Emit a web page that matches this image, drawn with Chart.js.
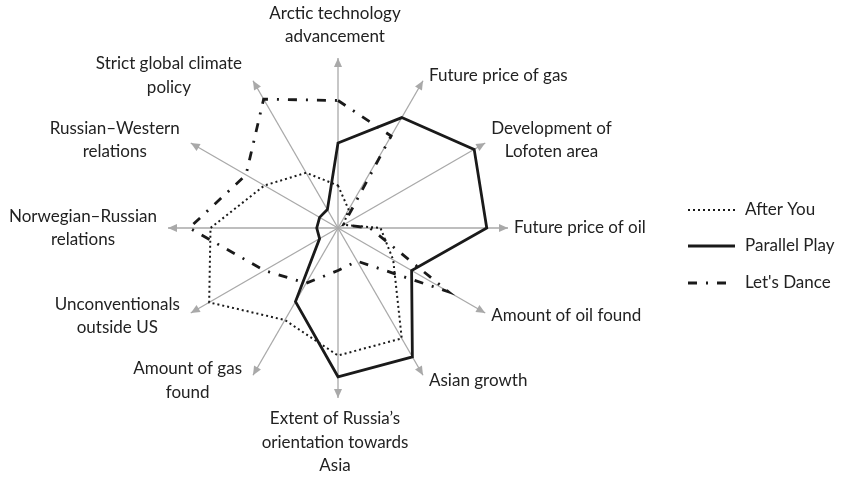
<!DOCTYPE html>
<html>
<head>
<meta charset="utf-8">
<script src="https://cdn.jsdelivr.net/npm/chart.js@4/dist/chart.umd.min.js"></script>
<style>
  html, body { margin: 0; padding: 0; background: #ffffff; }
  #wrap { position: relative; width: 841px; height: 477px; }
</style>
</head>
<body>
<div id="wrap"><canvas id="c" width="841" height="477"></canvas></div>
<script>
// ---- data ----
const categories = [
  ["Arctic technology", "advancement"],
  ["Future price of gas"],
  ["Development of", "Lofoten area"],
  ["Future price of oil"],
  ["Amount of oil found"],
  ["Asian growth"],
  ["Extent of Russia’s", "orientation towards", "Asia"],
  ["Amount of gas", "found"],
  ["Unconventionals", "outside US"],
  ["Norwegian–Russian", "relations"],
  ["Russian–Western", "relations"],
  ["Strict global climate", "policy"]
];
const seriesNames = ["After You", "Parallel Play", "Let's Dance"];
const afterYou     = [2, 1, 0.3, 2, 3, 6, 6, 5, 7, 6, 4, 3];
const parallelPlay = [4, 6, 7.4, 7, 4, 7, 7, 4, 1, 1, 1, 1];
const letsDance    = [6, 5, 0.3, 1.5, 6, 1.8, 2, 3, 4, 7, 5, 7];
const scaleMax = 8;

// ---- styles ----
const FONT = '17px Lato, "Open Sans", sans-serif';
const TEXT_COLOR = '#222222';
const AXIS_COLOR = '#a9a9a9';
const LINE_COLOR = '#1a1a1a';
const styles = [
  { width: 2,   dash: [2, 3] },
  { width: 2.8, dash: [] },
  { width: 2.8, dash: [9, 9, 2, 9] }
];
const seriesValues = [afterYou, parallelPlay, letsDance];

const arrowPlugin = {
  id: 'arrows',
  beforeDatasetsDraw(chart) {
    const s = chart.scales.r;
    const ctx = chart.ctx;
    ctx.save();
    ctx.fillStyle = AXIS_COLOR;
    for (let i = 0; i < categories.length; i++) {
      const tip = s.getPointPosition(i, s.drawingArea);
      const ang = Math.atan2(tip.y - s.yCenter, tip.x - s.xCenter);
      const L = 9, W = 4;
      const bx = tip.x - Math.cos(ang) * L, by = tip.y - Math.sin(ang) * L;
      ctx.beginPath();
      ctx.moveTo(tip.x, tip.y);
      ctx.lineTo(bx + Math.sin(ang) * W, by - Math.cos(ang) * W);
      ctx.lineTo(bx - Math.sin(ang) * W, by + Math.cos(ang) * W);
      ctx.closePath();
      ctx.fill();
    }
    ctx.restore();
  }
};

const labelPlugin = {
  id: 'radarLabels',
  afterDraw(chart) {
    const s = chart.scales.r;
    const ctx = chart.ctx;
    ctx.save();
    ctx.font = FONT;
    ctx.fillStyle = TEXT_COLOR;
    ctx.textBaseline = 'middle';
    ctx.textAlign = 'center';
    const LH = 23.5;
    const n = categories.length;
    for (let i = 0; i < n; i++) {
      const lines = categories[i];
      const tip = s.getPointPosition(i, s.drawingArea);
      const th = i * 2 * Math.PI / n;
      const sn = Math.sin(th), cs = Math.cos(th);
      if (Math.abs(sn) < 0.01) {
        let y0;
        if (cs > 0) y0 = tip.y - 21 - (lines.length - 1) * LH;
        else y0 = tip.y + 21;
        lines.forEach((t, k) => ctx.fillText(t, tip.x - 3, y0 + k * LH));
      } else {
        const bw = Math.max(...lines.map(t => ctx.measureText(t).width));
        const cy = tip.y - cs * 6;
        const y0 = cy - (lines.length - 1) * LH / 2;
        let cx;
        if (sn > 0) cx = tip.x + 6 + bw / 2;
        else cx = tip.x - 11 - bw / 2;
        lines.forEach((t, k) => ctx.fillText(t, cx, y0 + k * LH));
      }
    }
    // legend
    const lx0 = 688, lx1 = 735, tx = 745;
    const ly = [210, 246, 283];
    seriesNames.forEach((name, k) => {
      ctx.save();
      ctx.strokeStyle = LINE_COLOR;
      ctx.lineWidth = styles[k].width;
      ctx.setLineDash(styles[k].dash);
      ctx.beginPath();
      ctx.moveTo(lx0, ly[k]);
      ctx.lineTo(lx1, ly[k]);
      ctx.stroke();
      ctx.restore();
      ctx.textAlign = 'left';
      ctx.fillText(name, tx, ly[k]);
    });
    ctx.restore();
  }
};

new Chart(document.getElementById('c'), {
  type: 'radar',
  data: {
    labels: categories,
    datasets: seriesNames.map((name, k) => ({
      label: name,
      data: seriesValues[k],
      borderColor: LINE_COLOR,
      backgroundColor: 'rgba(0,0,0,0)',
      borderWidth: styles[k].width,
      borderDash: styles[k].dash,
      borderJoinStyle: 'miter',
      fill: false,
      pointRadius: 0,
      pointHoverRadius: 0,
      tension: 0
    }))
  },
  options: {
    responsive: false,
    animation: false,
    devicePixelRatio: 1,
    layout: { padding: { left: 168, right: 333, top: 58, bottom: 79 } },
    plugins: { legend: { display: false }, tooltip: { enabled: false } },
    scales: {
      r: {
        min: 0,
        max: scaleMax,
        ticks: { display: false },
        grid: { display: false },
        angleLines: { display: true, color: AXIS_COLOR, lineWidth: 1.3 },
        pointLabels: { display: false }
      }
    }
  },
  plugins: [arrowPlugin, labelPlugin]
});
</script>
</body>
</html>
